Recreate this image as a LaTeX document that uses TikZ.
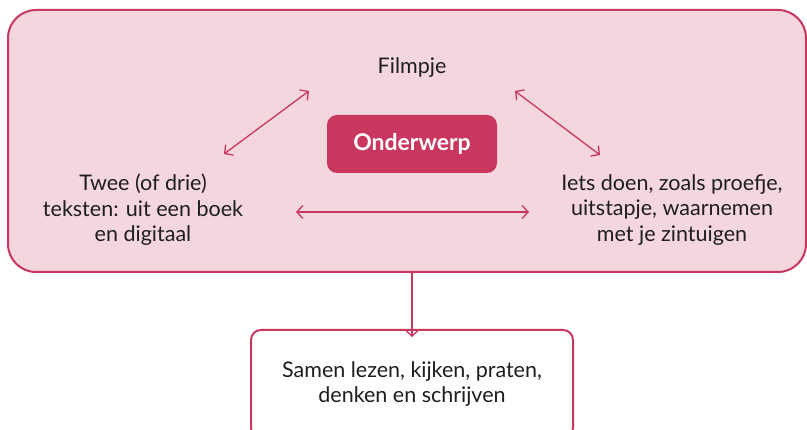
\documentclass[tikz,border=0pt]{standalone}
\usepackage{fontspec}
\setmainfont{Lato}
\usetikzlibrary{arrows.meta}
\definecolor{pinkline}{HTML}{C9375F}
\definecolor{pinkfill}{HTML}{F4D6DF}
\definecolor{txt}{HTML}{1E1E1E}
\tikzset{
  bigbox/.style={draw=pinkline, line width=2pt, fill=pinkfill, rounded corners=28pt, inner sep=0pt},
  topic/.style={fill=pinkline, rounded corners=10pt, text=white, font=\fontsize{23}{26}\selectfont\bfseries, minimum width=170pt, minimum height=58pt, inner sep=0pt},
  label/.style={text=txt, font=\fontsize{21.5}{25.5}\selectfont, align=center, inner sep=0pt},
  outbox/.style={draw=pinkline, line width=2pt, fill=white, rounded corners=10pt, minimum width=322pt, minimum height=108pt, inner sep=0pt},
  conn/.style={draw=pinkline, line width=1.3pt, {Straight Barb[length=6pt,width=13pt]}-{Straight Barb[length=6pt,width=13pt]}},
  connone/.style={draw=pinkline, line width=1.3pt, -{Straight Barb[length=6pt,width=13pt]}}
}
\begin{document}
\begin{tikzpicture}[x=1pt,y=-1pt]
\clip (0,0) rectangle (807,430);
\fill[white] (0,0) rectangle (807,430);
\node[bigbox, minimum width=798pt, minimum height=262pt] (main) at (407,141) {};
\node[label] (film) at (412,68) {Filmpje};
\node[topic] (topic) at (412,144) {Onderwerp};
\node[label] (left) at (143,210) {Twee (of drie)\\teksten: uit een boek\\en digitaal};
\node[label] (right) at (672,210) {Iets doen, zoals proefje,\\uitstapje, waarnemen\\met je zintuigen};
\node[outbox] (out) at (412,384) {};
\node[label] (outtxt) at (412,384) {Samen lezen, kijken, praten,\\denken en schrijven};
\coordinate (l1) at (224,154);
\coordinate (l2) at (309,91);
\coordinate (r1) at (515,91);
\coordinate (r2) at (600,155);
\coordinate (h1) at (296,212);
\coordinate (h2) at (529,212);
\draw[conn] (l1) -- (l2);
\draw[conn] (r1) -- (r2);
\draw[conn] (h1) -- (h2);
\draw[connone] (main.south -| out.north) -- ([yshift=-8pt]out.north);
\end{tikzpicture}
\end{document}
